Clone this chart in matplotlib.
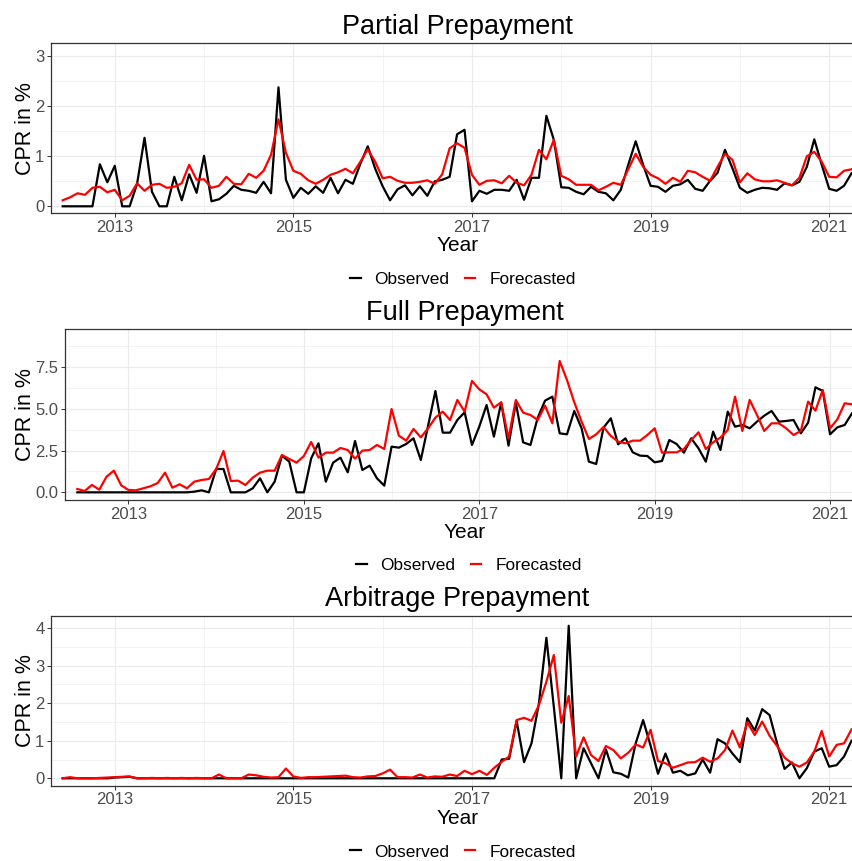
import numpy as np
import pandas as pd
import matplotlib
matplotlib.use('Agg')
import matplotlib.pyplot as plt
from matplotlib.ticker import FixedLocator, FormatStrFormatter

plt.rcParams['font.family'] = ['Liberation Sans', 'DejaVu Sans']

# monthly observations, Jun 2012 .. Apr 2021
dates = pd.date_range('2012-06-01', periods=107, freq='MS')
t = dates.year + (dates.month - 1) / 12.0

partial_obs = [0, 0, 0, 0, 0, 0.84, 0.48, 0.81, 0, 0, 0.45, 1.37, 0.29, 0, 0, 0.59, 0.12, 0.64, 0.27, 1.01,
               0.10, 0.14, 0.25, 0.41, 0.33, 0.31, 0.27, 0.49, 0.26, 2.38, 0.53, 0.17, 0.37, 0.25, 0.40, 0.27,
               0.57, 0.26, 0.53, 0.45, 0.85, 1.20, 0.75, 0.40, 0.12, 0.34, 0.42, 0.22, 0.40, 0.21, 0.50, 0.53,
               0.59, 1.44, 1.53, 0.10, 0.31, 0.25, 0.33, 0.33, 0.31, 0.53, 0.13, 0.57, 0.57, 1.81, 1.33, 0.38,
               0.37, 0.29, 0.24, 0.39, 0.29, 0.26, 0.12, 0.33, 0.83, 1.30, 0.83, 0.41, 0.39, 0.29, 0.41, 0.44,
               0.53, 0.35, 0.31, 0.51, 0.67, 1.13, 0.76, 0.37, 0.27, 0.33, 0.37, 0.36, 0.33, 0.46, 0.42, 0.49,
               0.79, 1.34, 0.83, 0.35, 0.31, 0.41, 0.66]
partial_fc = [0.12, 0.18, 0.26, 0.23, 0.37, 0.39, 0.28, 0.33, 0.12, 0.21, 0.46, 0.31, 0.43, 0.45, 0.37, 0.39,
              0.46, 0.83, 0.53, 0.54, 0.37, 0.41, 0.59, 0.45, 0.44, 0.65, 0.57, 0.71, 1.03, 1.74, 1.07, 0.71,
              0.65, 0.52, 0.45, 0.53, 0.63, 0.68, 0.75, 0.66, 0.89, 1.14, 0.89, 0.56, 0.59, 0.51, 0.47, 0.47,
              0.49, 0.52, 0.45, 0.64, 1.16, 1.26, 1.17, 0.63, 0.43, 0.51, 0.52, 0.46, 0.61, 0.47, 0.42, 0.63,
              1.13, 0.94, 1.33, 0.61, 0.54, 0.43, 0.43, 0.43, 0.32, 0.39, 0.47, 0.43, 0.74, 1.05, 0.79, 0.63,
              0.56, 0.45, 0.57, 0.49, 0.71, 0.68, 0.59, 0.51, 0.79, 1.05, 0.93, 0.48, 0.66, 0.54, 0.50, 0.50,
              0.52, 0.47, 0.42, 0.57, 1.00, 1.09, 0.89, 0.59, 0.58, 0.71, 0.74]

full_obs = [0, 0, 0, 0, 0, 0, 0, 0, 0, 0, 0, 0, 0, 0, 0, 0, 0.04, 0.12, 0, 1.4, 1.4, 0, 0, 0, 0.24, 0.84, 0,
            0.64, 2.2, 1.84, 0, 0, 2.04, 2.94, 0.64, 1.78, 2.08, 1.2, 3.08, 1.34, 1.6, 0.84, 0.4, 2.74, 2.68,
            2.9, 3.24, 1.94, 4.0, 6.08, 3.58, 3.58, 4.34, 4.8, 2.84, 3.94, 5.24, 3.34, 5.38, 2.8, 5.38, 3.0,
            2.84, 4.48, 5.5, 5.74, 3.54, 3.48, 4.88, 3.84, 1.84, 1.7, 3.88, 4.44, 2.88, 3.24, 2.4, 2.2, 2.18,
            1.8, 1.88, 3.14, 2.9, 2.38, 3.24, 2.64, 1.84, 3.64, 2.54, 4.84, 3.94, 4.04, 3.84, 4.24, 4.6, 4.88,
            4.24, 4.28, 4.34, 3.54, 4.18, 6.3, 6.08, 3.48, 3.9, 4.04, 4.74]
full_fc = [0.2, 0.08, 0.44, 0.16, 0.94, 1.3, 0.42, 0.14, 0.12, 0.24, 0.36, 0.56, 1.18, 0.28, 0.48, 0.24, 0.64,
           0.74, 0.8, 1.4, 2.48, 0.68, 0.7, 0.44, 0.88, 1.18, 1.3, 1.3, 2.24, 2.0, 1.78, 2.18, 3.02, 2.08, 2.38,
           2.38, 2.66, 2.54, 2.02, 2.5, 2.54, 2.84, 2.6, 5.0, 3.4, 3.1, 3.8, 3.3, 3.84, 4.48, 4.84, 4.34, 5.54,
           4.84, 6.68, 6.18, 5.88, 5.08, 5.4, 3.24, 5.54, 4.78, 4.64, 4.34, 5.2, 4.14, 7.88, 6.74, 5.4, 4.24,
           3.2, 3.48, 3.92, 3.38, 3.04, 2.94, 3.1, 3.1, 3.44, 3.84, 2.38, 2.4, 2.4, 2.6, 3.14, 3.6, 2.6, 3.0,
           3.28, 3.74, 5.74, 3.68, 5.54, 4.64, 3.68, 4.14, 4.14, 3.84, 3.44, 3.68, 5.44, 4.9, 6.14, 3.84, 4.38,
           5.34, 5.28]

arb_obs = [0, 0, 0, 0, 0, 0, 0, 0.02, 0.03, 0.04, 0, 0, 0, 0, 0, 0, 0, 0, 0, 0, 0, 0, 0, 0, 0, 0, 0, 0, 0,
           0, 0, 0, 0, 0, 0, 0, 0, 0, 0, 0, 0, 0, 0, 0, 0, 0, 0, 0, 0, 0, 0, 0, 0, 0, 0, 0, 0, 0, 0,
           0.5, 0.52, 1.53, 0.43, 0.93, 2.0, 3.74, 1.9, 0, 4.06, 0, 0.8, 0.4, 0.0, 0.77, 0.16, 0.12, 0.02,
           0.93, 1.55, 0.87, 0.12, 0.66, 0.15, 0.2, 0.08, 0.13, 0.5, 0.15, 1.04, 0.93, 0.66, 0.43, 1.6, 1.27,
           1.84, 1.68, 0.93, 0.25, 0.42, 0.0, 0.27, 0.71, 0.8, 0.31, 0.35, 0.58, 1.0]
arb_fc = [0.0, 0.03, 0.0, 0.0, 0.0, 0.01, 0.02, 0.03, 0.04, 0.05, 0.0, 0.0, 0.01, 0.0, 0.01, 0.0, 0.01, 0.0,
          0.01, 0.0, 0.0, 0.1, 0.0, 0.0, 0.0, 0.1, 0.08, 0.04, 0.02, 0.03, 0.26, 0.05, 0.01, 0.03, 0.03, 0.04,
          0.05, 0.06, 0.07, 0.03, 0.02, 0.05, 0.06, 0.13, 0.23, 0.03, 0.03, 0.02, 0.1, 0.02, 0.05, 0.04, 0.1,
          0.06, 0.2, 0.11, 0.2, 0.09, 0.28, 0.44, 0.58, 1.55, 1.61, 1.53, 1.95, 2.57, 3.28, 1.48, 2.19, 0.58,
          1.09, 0.62, 0.46, 0.86, 0.75, 0.53, 0.68, 0.9, 0.82, 1.29, 0.46, 0.4, 0.28, 0.35, 0.42, 0.43, 0.55,
          0.44, 0.53, 0.75, 1.27, 0.82, 1.49, 1.15, 1.51, 1.13, 0.86, 0.55, 0.4, 0.31, 0.42, 0.71, 1.26, 0.58,
          0.89, 0.93, 1.3]

titles = ['Partial Prepayment', 'Full Prepayment', 'Arbitrage Prepayment']
observed = [partial_obs, full_obs, arb_obs]
forecast = [partial_fc, full_fc, arb_fc]

W, H = 852., 861.
fig = plt.figure(figsize=(W / 100, H / 100), dpi=100)

# layout in pixels: left, top, bottom of each panel; right edge runs past the image
rects = [(51, 43.3, 213.3), (65, 329.3, 500), (51, 616, 785.7)]
xlims = [(2012.286, 2021.390), (2012.276, 2021.387), (2012.286, 2021.390)]
ylims = [(-0.14, 3.26), (-0.46, 9.78), (-0.197, 4.32)]
ymaj = [[0, 1, 2, 3], [0, 2.5, 5, 7.5], [0, 1, 2, 3, 4]]
ymin = [[0.5, 1.5, 2.5], [1.25, 3.75, 6.25, 8.75], [0.5, 1.5, 2.5, 3.5]]
yfmt = ['%g', '%.1f', '%g']
leg_xy = [(463, 279), (469, 565), (463, 852)]

for k in range(3):
    l, top, bot = rects[k]
    ax = fig.add_axes([l / W, 1 - bot / H, (864 - l) / W, (bot - top) / H])
    ax.plot(t, observed[k], color='black', lw=1.6, label='Observed')
    ax.plot(t, forecast[k], color='#FF0000', lw=1.6, label='Forecasted')
    ax.set_xlim(xlims[k])
    ax.set_ylim(ylims[k])

    ax.xaxis.set_major_locator(FixedLocator([2013, 2015, 2017, 2019, 2021]))
    ax.xaxis.set_minor_locator(FixedLocator([2012, 2014, 2016, 2018, 2020]))
    ax.set_xticklabels(['2013', '2015', '2017', '2019', '2021'])
    ax.yaxis.set_major_locator(FixedLocator(ymaj[k]))
    ax.yaxis.set_minor_locator(FixedLocator(ymin[k]))
    ax.yaxis.set_major_formatter(FormatStrFormatter(yfmt[k]))

    ax.grid(which='major', color='#EBEBEB', lw=0.8)
    ax.grid(which='minor', color='#EBEBEB', lw=0.4)
    ax.set_axisbelow(True)
    for s in ax.spines.values():
        s.set_color('#333333')
        s.set_linewidth(0.9)
    ax.tick_params(which='major', length=2.75, width=0.7, color='#333333',
                   labelsize=12, labelcolor='#4D4D4D', pad=2)
    ax.tick_params(which='minor', length=0)

    ax.set_title(titles[k], fontsize=19.5, pad=7)
    ax.set_xlabel('Year', fontsize=15, labelpad=1)
    ax.set_ylabel('CPR in %', fontsize=15.5)
    ax.yaxis.set_label_coords(36 / W, 1 - (top + bot) / 2 / H, transform=fig.transFigure)

    lx, ly = leg_xy[k]
    lgd = ax.legend(loc='center', bbox_to_anchor=(lx / W, 1 - ly / H), bbox_transform=fig.transFigure,
                    ncol=2, frameon=False, fontsize=12.4, handlelength=0.6, handletextpad=0.8,
                    columnspacing=0.9, borderaxespad=0, borderpad=0)

plt.savefig('out.png', dpi=100)
